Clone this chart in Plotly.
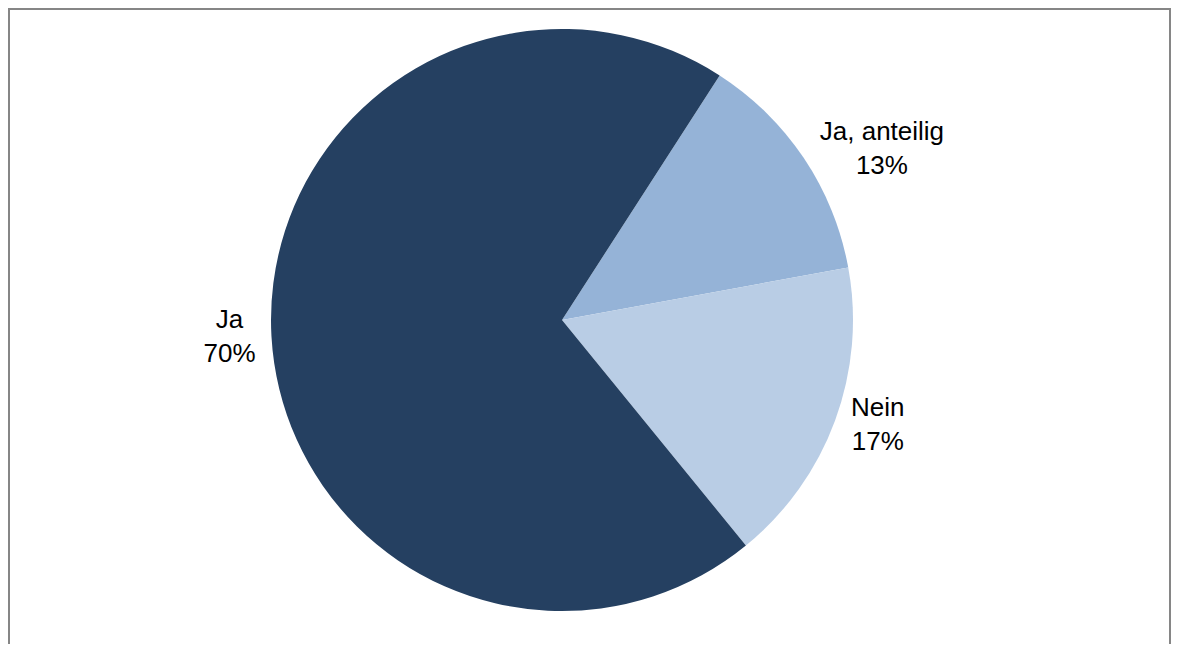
import plotly.graph_objects as go

labels = ["Ja, anteilig", "Nein", "Ja"]
values = [13, 17, 70]
colors = ["#95B3D7", "#B9CDE5", "#254061"]

fig = go.Figure(
    go.Pie(
        labels=labels,
        values=values,
        sort=False,
        direction="clockwise",
        rotation=32.8,
        marker=dict(colors=colors, line=dict(width=0)),
        textinfo="label+percent",
        textposition="outside",
        automargin=False,
        domain=dict(x=[0, 1], y=[0, 1]),
        outsidetextfont=dict(family="Arial, Liberation Sans, sans-serif", size=26, color="#000000"),
        hoverinfo="label+percent",
        showlegend=False,
    )
)

# page body adds ~8px offset; figure sized to fit the window without scrollbars
W, H = 1163, 636
ml, mr, mt, mb = 0, 55, 21, 33
pw, ph = W - ml - mr, H - mt - mb

def px_x(x):
    return (x - ml) / pw

def px_y(y):
    return (H - mb - y) / ph

fig.update_layout(
    autosize=False,
    width=W,
    height=H,
    margin=dict(l=ml, r=mr, t=mt, b=mb, pad=0, autoexpand=False),
    paper_bgcolor="white",
    plot_bgcolor="white",
    font=dict(family="Arial, Liberation Sans, sans-serif", size=26, color="#000000"),
    shapes=[
        dict(
            type="rect",
            xref="paper",
            yref="paper",
            x0=px_x(1),
            x1=px_x(1162),
            y0=px_y(660),
            y1=px_y(1),
            line=dict(color="#868686", width=2),
            fillcolor="rgba(0,0,0,0)",
            layer="below",
        )
    ],
)

fig.write_html("out.html")
